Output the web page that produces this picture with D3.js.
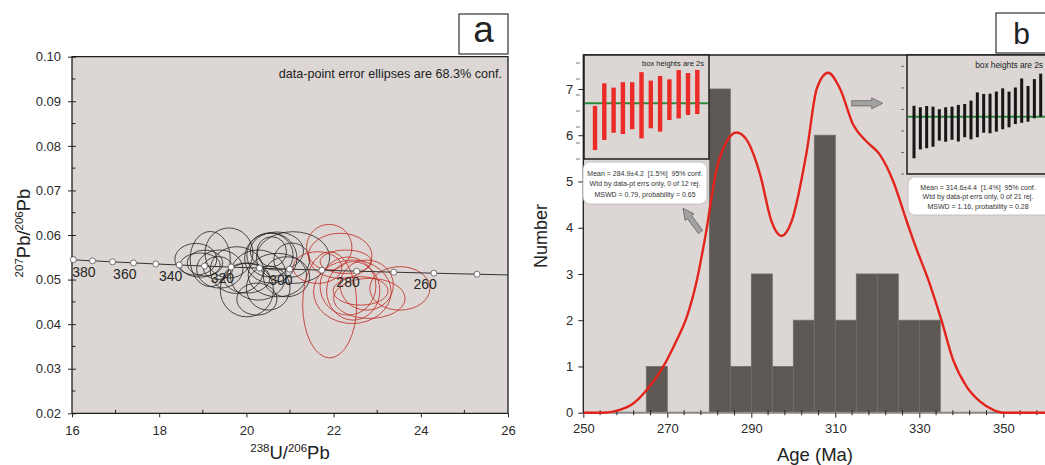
<!DOCTYPE html>
<html>
<head>
<meta charset="utf-8">
<script src="https://cdn.jsdelivr.net/npm/d3@7"></script>
<style>
  html, body { margin: 0; padding: 0; background: #ffffff; }
  svg text { font-family: "Liberation Sans", Arial, Helvetica, sans-serif; white-space: pre; }
</style>
</head>
<body>
<script>
// ---------------- Panel a: Tera-Wasserburg concordia ----------------
// concordia age marks (Ma) and their 238U/206Pb, 207Pb/206Pb positions
const concordiaAge = [390, 380, 370, 360, 350, 340, 330, 320, 310, 300, 290, 280, 270, 260, 250];
const concordiaU   = [16.03, 16.47, 16.93, 17.41, 17.92, 18.46, 19.04, 19.65, 20.30, 20.99, 21.73, 22.53, 23.38, 24.30, 25.29];
const concordiaPb  = [0.05446, 0.05421, 0.05398, 0.05374, 0.05350, 0.05327, 0.05303, 0.05280, 0.05257, 0.05234, 0.05211, 0.05188, 0.05166, 0.05143, 0.05120];
const concordiaLabelAge = [380, 360, 340, 320, 300, 280, 260];
// curve continues to both plot edges
const concordiaEndU  = [16, 26];
const concordiaEndPb = [0.05452, 0.05104];

// older population (black ellipses): centre and 1-sigma half axes
const blackU   = [18.84, 19.17, 19.60, 19.39, 19.78, 20.01, 20.27, 20.56, 20.54, 20.70, 21.07, 20.71, 20.50, 20.92, 19.05, 20.01, 18.94, 21.04, 20.58, 19.35, 20.24];
const blackPb  = [0.05456, 0.05461, 0.05596, 0.05236, 0.05213, 0.04764, 0.05101, 0.05483, 0.05551, 0.05640, 0.05494, 0.05101, 0.04809, 0.05063, 0.05371, 0.05034, 0.05326, 0.05438, 0.05625, 0.05258, 0.04562];
const blackSU  = [0.48, 0.46, 0.55, 0.53, 0.61, 0.61, 0.64, 0.60, 0.53, 0.61, 0.84, 0.67, 0.50, 0.53, 0.41, 0.53, 0.46, 0.41, 0.34, 0.34, 0.46];
const blackSPb = [0.00355, 0.00618, 0.00562, 0.00427, 0.00524, 0.00600, 0.00562, 0.00562, 0.00494, 0.00427, 0.00580, 0.00488, 0.00494, 0.00449, 0.00292, 0.00337, 0.00270, 0.00382, 0.00337, 0.00258, 0.00360];

// younger population (red ellipses)
const redU   = [21.91, 21.90, 22.15, 21.63, 22.28, 22.43, 22.45, 22.62, 22.82, 23.52, 22.33, 22.76];
const redPb  = [0.04434, 0.05726, 0.05533, 0.05270, 0.05400, 0.04726, 0.04746, 0.04746, 0.04578, 0.04802, 0.04854, 0.04876];
const redSU  = [0.62, 0.52, 0.73, 0.56, 0.59, 0.89, 0.61, 0.63, 0.82, 0.69, 0.64, 0.61];
const redSPb = [0.01191, 0.00512, 0.00506, 0.00355, 0.00263, 0.00712, 0.00656, 0.00319, 0.00449, 0.00488, 0.00652, 0.00562];

const uTicks  = [16, 18, 20, 22, 24, 26];
const pbTicks = [0.02, 0.03, 0.04, 0.05, 0.06, 0.07, 0.08, 0.09, 0.10];

// ---------------- Panel b: age histogram + probability curve ----------------
const binStart = [265, 280, 285, 290, 295, 300, 305, 310, 315, 320, 325, 330];
const binCount = [1, 7, 1, 3, 1, 2, 6, 2, 3, 3, 2, 2];
const binWidth = 5;

const kdeAge   = [250, 254.8, 258.7, 261.9, 265.1, 269.0, 272.2, 274.6, 277.0, 279.0, 281.8, 284.1, 286.5, 288.9, 292.1, 294.8, 297.2, 299.6, 303.2, 305.6, 308.3, 311.1, 314.3, 317.5, 320.6, 323.8, 327.0, 328.6, 332.5, 335.3, 338.1, 341.3, 344.5, 347.6, 350, 360];
const kdeCount = [0, 0, 0.06, 0.20, 0.49, 0.99, 1.56, 2.06, 2.85, 3.78, 5.29, 5.86, 6.06, 5.90, 5.15, 4.14, 3.82, 4.14, 5.65, 7.01, 7.35, 7.01, 6.22, 5.86, 5.58, 5.00, 4.14, 3.72, 2.78, 1.99, 1.13, 0.56, 0.24, 0.06, 0, 0];

const ageTicks   = [250, 270, 290, 310, 330, 350];
const countTicks = [0, 1, 2, 3, 4, 5, 6, 7];

// weighted-mean inset, younger group (age, 2s)
const youngAge = [269.4, 279.6, 280.5, 281.8, 283.3, 283.6, 284.1, 284.5, 287.1, 290.5, 290.6, 291.9];
const youngErr = [13.8, 17.7, 14.1, 16.2, 14.7, 20.7, 14.9, 17.4, 12.7, 15.1, 13.1, 13.8];
const youngMean = 284.9;
const youngText = ["Mean = 284.9\u00b14.2  [1.5%]  95% conf.", "Wtd by data-pt errs only, 0 of 12 rej.", "MSWD = 0.79, probability = 0.65"];

// weighted-mean inset, older group
const oldAge = [307.5, 309.2, 309.8, 310.0, 310.8, 311.0, 311.6, 311.6, 312.8, 313.1, 315.5, 316.2, 316.1, 317.0, 318.3, 318.0, 319.7, 322.1, 320.6, 323.0, 324.6];
const oldErr = [12.2, 9.8, 9.8, 9.3, 7.3, 8.0, 7.7, 8.5, 7.7, 9.0, 10.4, 9.0, 9.2, 9.3, 9.5, 8.3, 8.5, 10.3, 8.3, 9.1, 10.0];
const oldMean = 314.6;
const oldText = ["Mean = 314.6\u00b14.4  [1.4%]  95% conf.", "Wtd by data-pt errs only, 0 of 21 rej.", "MSWD = 1.16, probability = 0.28"];

// ---------------- drawing ----------------
const BG = "#dcd7d4";
const INK = "#2a2a2a";
const svg = d3.select("body").append("svg").attr("width", 1045).attr("height", 465);

function styleAxis(g, size) {
  g.select(".domain").remove();
  g.selectAll(".tick line").attr("stroke", "#222").attr("stroke-width", 1);
  g.selectAll(".tick text").attr("font-size", size).attr("fill", INK)
   .attr("font-family", "'Liberation Sans', Arial, sans-serif");
}

// ===== Panel a =====
const xa = d3.scaleLinear().domain([16, 26]).range([72, 508]);
const ya = d3.scaleLinear().domain([0.02, 0.10]).range([413.3, 56.7]);
const ga = svg.append("g");

ga.append("rect").attr("x", xa(16)).attr("y", ya(0.10))
  .attr("width", xa(26) - xa(16)).attr("height", ya(0.02) - ya(0.10)).attr("fill", BG);

// minor ticks (inside)
ga.append("g").selectAll("line").data(d3.range(0.025, 0.1, 0.01)).join("line")
  .attr("x1", xa(16)).attr("x2", xa(16) + 3.5).attr("y1", d => ya(d)).attr("y2", d => ya(d))
  .attr("stroke", "#222");
ga.append("g").selectAll("line").data(d3.range(17, 26, 2)).join("line")
  .attr("x1", d => xa(d)).attr("x2", d => xa(d)).attr("y1", ya(0.02)).attr("y2", ya(0.02) - 3.5)
  .attr("stroke", "#222");

const axLa = ga.append("g").attr("transform", `translate(${xa(16)},0)`)
  .call(d3.axisLeft(ya).tickValues(pbTicks).tickFormat(d3.format(".2f")).tickSizeInner(4).tickSizeOuter(0).tickPadding(7));
styleAxis(axLa, 13);
axLa.selectAll(".tick line").attr("x1", 4);

const axBa = ga.append("g").attr("transform", `translate(0,${ya(0.02)})`)
  .call(d3.axisBottom(xa).tickValues(uTicks).tickFormat(d3.format("d")).tickSizeInner(4).tickSizeOuter(0).tickPadding(8));
styleAxis(axBa, 13);

// frame
ga.append("path")
  .attr("d", `M${xa(16)},${ya(0.02)}V${ya(0.10)}H${xa(26)}V${ya(0.02)}H${xa(16)}`)
  .attr("fill", "none").attr("stroke", "#1e1e1e").attr("stroke-width", 1.3);

// error ellipses
function drawEllipses(U, Pb, SU, SPb, color, opacity) {
  ga.append("g").selectAll("ellipse").data(d3.range(U.length)).join("ellipse")
    .attr("cx", i => xa(U[i])).attr("cy", i => ya(Pb[i]))
    .attr("rx", i => xa(U[i] + SU[i]) - xa(U[i]))
    .attr("ry", i => ya(Pb[i]) - ya(Pb[i] + SPb[i]))
    .attr("fill", "none").attr("stroke", color).attr("stroke-width", 0.9).attr("stroke-opacity", opacity);
}
drawEllipses(blackU, blackPb, blackSU, blackSPb, "#1c1c1c", 0.85);
drawEllipses(redU, redPb, redSU, redSPb, "#c02a22", 0.9);

// concordia curve
const concU = [concordiaEndU[0], ...concordiaU, concordiaEndU[1]];
const concPb = [concordiaEndPb[0], ...concordiaPb, concordiaEndPb[1]];
ga.append("path")
  .attr("d", d3.line().x(i => xa(concU[i])).y(i => ya(concPb[i])).curve(d3.curveMonotoneX)(d3.range(concU.length)))
  .attr("fill", "none").attr("stroke", "#333").attr("stroke-width", 1);
ga.append("g").selectAll("circle").data(d3.range(concordiaAge.length)).join("circle")
  .attr("cx", i => xa(concordiaU[i])).attr("cy", i => ya(concordiaPb[i])).attr("r", 3)
  .attr("fill", "#fff").attr("stroke", "#555").attr("stroke-width", 0.8);
ga.append("g").selectAll("text").data(concordiaLabelAge).join("text")
  .attr("x", a => xa(concordiaU[concordiaAge.indexOf(a)]) + 3)
  .attr("y", a => ya(concordiaPb[concordiaAge.indexOf(a)]) + 16)
  .attr("text-anchor", "end").attr("font-size", 14).attr("fill", "#262626")
  .text(a => a);

ga.append("text").attr("x", 502).attr("y", 77.5).attr("text-anchor", "end")
  .attr("font-size", 12.6).attr("fill", "#222").text("data-point error ellipses are 68.3% conf.");

// axis titles with isotope superscripts
function isotopeLabel(parent, parts) {
  parts.forEach(p => {
    parent.append("tspan").attr("font-size", p[1] ? 11.5 : 18.5).attr("dy", p[2]).text(p[0]);
  });
}
const yta = ga.append("text").attr("transform", "translate(30,233) rotate(-90)")
  .attr("text-anchor", "middle").attr("fill", "#222");
isotopeLabel(yta, [["207", true, -7], ["Pb/", false, 7], ["206", true, -7], ["Pb", false, 7]]);
const xta = ga.append("text").attr("x", 290).attr("y", 459)
  .attr("text-anchor", "middle").attr("fill", "#222");
isotopeLabel(xta, [["238", true, -7], ["U/", false, 7], ["206", true, -7], ["Pb", false, 7]]);

// panel tag
ga.append("rect").attr("x", 459).attr("y", 14).attr("width", 49).attr("height", 40)
  .attr("fill", "#fff").attr("stroke", "#333").attr("stroke-width", 1.2);
ga.append("text").attr("x", 483.5).attr("y", 42).attr("text-anchor", "middle")
  .attr("font-size", 37).attr("fill", "#222").text("a");

// ===== Panel b =====
const xb = d3.scaleLinear().domain([250, 360]).range([583.3, 1045.3]);
const yb = d3.scaleLinear().domain([0, 7.735]).range([412.7, 55]);
const gb = svg.append("g");

gb.append("rect").attr("x", xb(250)).attr("y", yb(7.735))
  .attr("width", 1050 - xb(250)).attr("height", yb(0) - yb(7.735)).attr("fill", BG);

// histogram
gb.append("g").selectAll("rect").data(d3.range(binStart.length)).join("rect")
  .attr("x", i => xb(binStart[i])).attr("width", i => xb(binStart[i] + binWidth) - xb(binStart[i]))
  .attr("y", i => yb(binCount[i])).attr("height", i => yb(0) - yb(binCount[i]))
  .attr("fill", "#5e5854").attr("stroke", "#746e6a").attr("stroke-width", 0.8);

// bottom axis line (grey) with ticks
gb.append("line").attr("x1", xb(250)).attr("x2", 1045).attr("y1", yb(0)).attr("y2", yb(0))
  .attr("stroke", "#8c8886").attr("stroke-width", 2);
gb.append("g").selectAll("line").data(d3.range(254, 360, 4).filter(v => (v - 250) % 20 !== 0)).join("line")
  .attr("x1", d => xb(d)).attr("x2", d => xb(d)).attr("y1", yb(0) - 2.5).attr("y2", yb(0) + 2.5)
  .attr("stroke", "#222");
const axBb = gb.append("g").attr("transform", `translate(0,${yb(0)})`)
  .call(d3.axisBottom(xb).tickValues(ageTicks).tickFormat(d3.format("d")).tickSizeInner(5).tickSizeOuter(0).tickPadding(6));
styleAxis(axBb, 13);

// probability curve
gb.append("path")
  .attr("d", d3.line().x(i => xb(kdeAge[i])).y(i => yb(kdeCount[i])).curve(d3.curveMonotoneX)(d3.range(kdeAge.length)))
  .attr("fill", "none").attr("stroke", "#e3241d").attr("stroke-width", 2.4);

const axLb = gb.append("g").attr("transform", `translate(${xb(250)},0)`)
  .call(d3.axisLeft(yb).tickValues(countTicks).tickFormat(d3.format("d")).tickSizeInner(5).tickSizeOuter(0).tickPadding(5));
styleAxis(axLb, 13);

gb.append("path").attr("d", `M${xb(250)},${yb(0)}V${yb(7.735)}H1045`)
  .attr("fill", "none").attr("stroke", "#1e1e1e").attr("stroke-width", 1.3);

gb.append("text").attr("transform", "translate(547,236) rotate(-90)").attr("text-anchor", "middle")
  .attr("font-size", 18).attr("fill", "#222").text("Number");
gb.append("text").attr("x", 815).attr("y", 461).attr("text-anchor", "middle")
  .attr("font-size", 18.5).attr("fill", "#222").text("Age (Ma)");

// --- inset: weighted mean of the younger group
const yL = d3.scaleLinear().domain([250, 315]).range([159, 55]);
const xL = d3.scaleLinear().domain([0, youngAge.length - 1]).range([595, 697.3]);
const gL = gb.append("g");
gL.append("g").selectAll("line").data(d3.range(250, 316, 10)).join("line")
  .attr("x1", 576).attr("x2", 580).attr("y1", d => yL(d)).attr("y2", d => yL(d))
  .attr("stroke", "#555").attr("stroke-width", 0.8);
gL.append("rect").attr("x", 584).attr("y", yL(315)).attr("width", 125).attr("height", yL(250) - yL(315))
  .attr("fill", BG).attr("stroke", "#1e1e1e").attr("stroke-width", 1.5);
gL.append("line").attr("x1", 585).attr("x2", 708).attr("y1", yL(youngMean)).attr("y2", yL(youngMean))
  .attr("stroke", "#2a8a3a").attr("stroke-width", 2);
gL.append("g").selectAll("rect").data(d3.range(youngAge.length)).join("rect")
  .attr("x", i => xL(i) - 2.2).attr("width", 4.4)
  .attr("y", i => yL(youngAge[i] + youngErr[i])).attr("height", i => yL(youngAge[i] - youngErr[i]) - yL(youngAge[i] + youngErr[i]))
  .attr("fill", "#ec2b28");
gL.append("text").attr("x", 704).attr("y", 66).attr("text-anchor", "end")
  .attr("font-size", 7.6).attr("fill", "#222").text("box heights are 2s");
gL.append("rect").attr("x", 583).attr("y", 162).attr("width", 124).attr("height", 42).attr("rx", 7)
  .attr("fill", "#fff").attr("stroke", "#b8b8b8").attr("stroke-width", 0.8);
gL.append("g").selectAll("text").data(youngText).join("text")
  .attr("x", 645).attr("y", (d, i) => 175.5 + i * 10.5).attr("text-anchor", "middle")
  .attr("font-size", 7).attr("fill", "#333").text(d => d);

// --- inset: weighted mean of the older group
const yR = d3.scaleLinear().domain([288, 343.3]).range([174, 55]);
const xR = d3.scaleLinear().domain([0, oldAge.length - 1]).range([914, 1040.7]);
const gR = gb.append("g");
gR.append("g").selectAll("line").data(d3.range(288, 340, 10)).join("line")
  .attr("x1", 901).attr("x2", 904).attr("y1", d => yR(d)).attr("y2", d => yR(d))
  .attr("stroke", "#555").attr("stroke-width", 0.8);
gR.append("rect").attr("x", 907).attr("y", yR(343.3)).attr("width", 150).attr("height", yR(288) - yR(343.3))
  .attr("fill", BG).attr("stroke", "#1e1e1e").attr("stroke-width", 1.5);
gR.append("line").attr("x1", 908).attr("x2", 1045).attr("y1", yR(oldMean)).attr("y2", yR(oldMean))
  .attr("stroke", "#2a8a3a").attr("stroke-width", 2);
gR.append("g").selectAll("rect").data(d3.range(oldAge.length)).join("rect")
  .attr("x", i => xR(i) - 1.5).attr("width", 3)
  .attr("y", i => yR(oldAge[i] + oldErr[i])).attr("height", i => yR(oldAge[i] - oldErr[i]) - yR(oldAge[i] + oldErr[i]))
  .attr("fill", "#161616");
gR.append("text").attr("x", 1043).attr("y", 68).attr("text-anchor", "end")
  .attr("font-size", 8.3).attr("fill", "#222").text("box heights are 2s");
gR.append("rect").attr("x", 908).attr("y", 177).attr("width", 145).attr("height", 38).attr("rx", 7)
  .attr("fill", "#fff").attr("stroke", "#b8b8b8").attr("stroke-width", 0.8);
gR.append("g").selectAll("text").data(oldText).join("text")
  .attr("x", 978).attr("y", (d, i) => 189.5 + i * 9.6).attr("text-anchor", "middle")
  .attr("font-size", 7).attr("fill", "#333").text(d => d);

// pointer arrows linking the insets to the peaks
function arrow(g, x0, y0, x1, y1) {
  const L = Math.hypot(x1 - x0, y1 - y0), ang = Math.atan2(y1 - y0, x1 - x0) * 180 / Math.PI;
  const h = 11, sw = 2.6, hw = 5.5;
  g.append("path")
    .attr("d", `M0,${-sw}H${L - h}V${-hw}L${L},0L${L - h},${hw}V${sw}H0Z`)
    .attr("transform", `translate(${x0},${y0}) rotate(${ang})`)
    .attr("fill", "#a2a2a2").attr("stroke", "#666").attr("stroke-width", 0.8);
}
arrow(gb, 851.7, 103.3, 882.7, 103.3);
arrow(gb, 700.5, 232, 683, 208.3);

// panel tag
gb.append("rect").attr("x", 996).attr("y", 13).attr("width", 60).attr("height", 40)
  .attr("fill", "#fff").attr("stroke", "#333").attr("stroke-width", 1.2);
gb.append("text").attr("x", 1021.5).attr("y", 43.5).attr("text-anchor", "middle")
  .attr("font-size", 30).attr("fill", "#222").text("b");
</script>
</body>
</html>
